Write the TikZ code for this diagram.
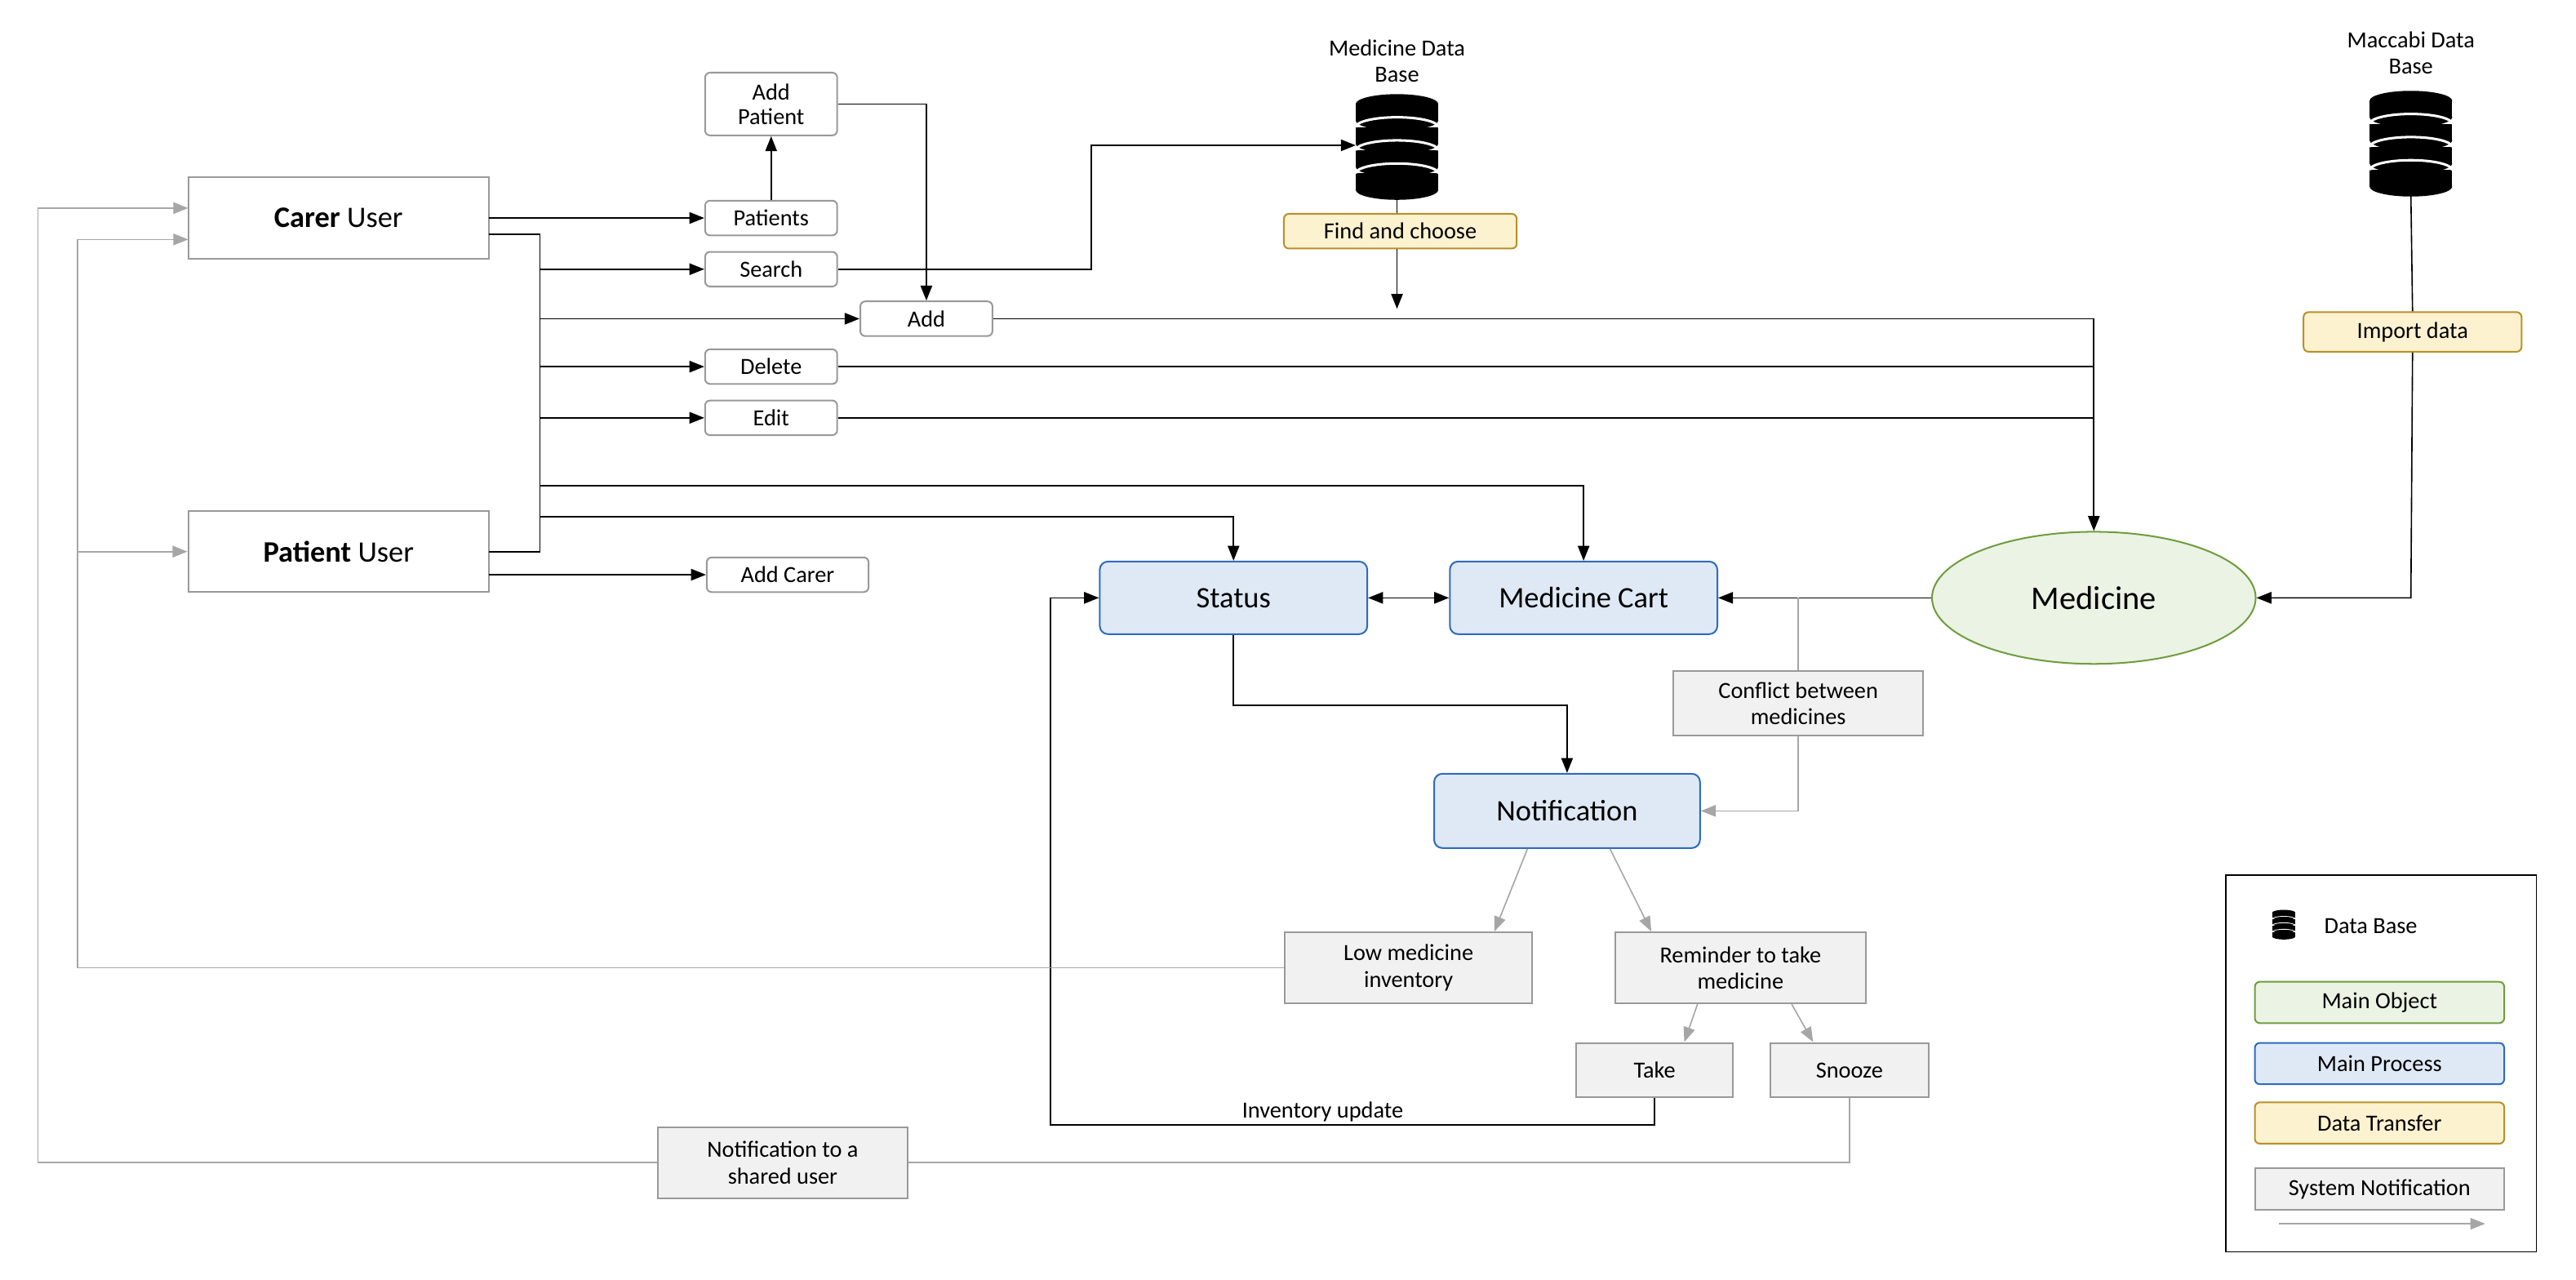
\documentclass[tikz,border=0pt]{standalone}
\usepackage{fontspec}
\setmainfont{Carlito}
\usetikzlibrary{arrows.meta,shapes.geometric}
\definecolor{gfill}{HTML}{EBF3E4}\definecolor{gdraw}{HTML}{6F9D3E}
\definecolor{bfill}{HTML}{DFE9F5}\definecolor{bdraw}{HTML}{2E6BBE}
\definecolor{yfill}{HTML}{FDF2D0}\definecolor{ydraw}{HTML}{B8902A}
\definecolor{sfill}{HTML}{F1F1F1}\definecolor{sdraw}{HTML}{999999}
\begin{document}
\begin{tikzpicture}[x=1pt,y=-1pt,
 sm/.style={draw=gray!80,rounded corners=3pt,line width=1pt,minimum width=80pt,minimum height=21pt,inner sep=1pt,font=\fontsize{14}{15}\selectfont,align=center},
 usr/.style={draw=gray!80,line width=1pt,minimum width=182pt,minimum height=49pt,font=\fontsize{18}{19}\selectfont},
 proc/.style={draw=bdraw,fill=bfill,rounded corners=5pt,line width=1pt,minimum width=162pt,minimum height=44pt,font=\fontsize{18}{19}\selectfont},
 dt/.style={draw=ydraw,fill=yfill,rounded corners=3pt,line width=1pt,minimum height=21pt,font=\fontsize{14}{15}\selectfont},
 sn/.style={draw=sdraw,fill=sfill,line width=1pt,minimum width=150pt,minimum height=42pt,align=center,font=\fontsize{14}{16}\selectfont},
 lg/.style={rounded corners=3pt,line width=1pt,minimum width=151pt,minimum height=25pt,font=\fontsize{14}{15}\selectfont},
 ar/.style={-{Triangle[length=9pt,width=7pt]},line width=0.8pt},
 ga/.style={-{Triangle[length=9pt,width=7pt]},line width=0.8pt,draw=gray!70,color=gray!70},
 gl/.style={line width=0.8pt,draw=gray!70},
 bl/.style={line width=0.8pt},
 db/.pic={\foreach \k in {0,1,2,3}{\fill (-25*#1,{(-30+\k*14)*#1}) rectangle (25*#1,{(-20+\k*14)*#1}); \fill (0,{(-20+\k*14)*#1}) ellipse ({25*#1} and {6*#1});}
   \fill (0,-30*#1) ellipse ({25*#1} and {6*#1});
   \foreach \k in {1,2,3}{\draw[white,line width={1.5pt*#1}] (-25*#1,{(-30+\k*14)*#1}) arc (180:360:{25*#1} and {6*#1});}}
]
\useasboundingbox (0,0) rectangle (1560,775);
% users
\node[usr] (carer) at (205,132) {\textbf{Carer} User};
\node[usr] (patient) at (205,334) {\textbf{Patient} User};
\node[sm,minimum height=38pt] (addp) at (467,63) {Add\\Patient};
\node[sm] (patients) at (467,132) {Patients};
\node[sm] (search) at (467,163) {Search};
\node[sm] (add) at (561,193) {Add};
\node[sm] (delete) at (467,222) {Delete};
\node[sm] (edit) at (467,253) {Edit};
\node[sm,minimum width=98pt] (addc) at (477,348) {Add Carer};
% databases
\node[font=\fontsize{14}{16}\selectfont,align=center] (mdbl) at (846,37) {Medicine Data\\Base};
\pic at (846,93) {db=1}; \coordinate (mdbL) at (821,88); \coordinate (mdbB) at (846,118);
\node[dt,minimum width=141pt] (find) at (848,140) {Find and choose};
\coordinate (findend) at (846,187);
\node[font=\fontsize{14}{16}\selectfont,align=center] (cdbl) at (1460,32) {Maccabi Data\\Base};
\pic at (1460,91) {db=1}; \coordinate (cdbB) at (1460,118);
\node[dt,minimum width=132pt,minimum height=24pt] (imp) at (1461,201) {Import data};
% main
\node[ellipse,draw=gdraw,fill=gfill,line width=1pt,minimum width=196pt,minimum height=80pt,font=\fontsize{20}{22}\selectfont] (med) at (1268,362) {Medicine};
\node[proc] (cart) at (959,362) {Medicine Cart};
\node[proc] (status) at (747,362) {Status};
\node[proc,minimum width=161pt,minimum height=45pt] (notif) at (949,491) {Notification};
\node[sn,minimum width=151pt,minimum height=39pt] (conf) at (1089,426) {Conflict between\\medicines};
\node[sn,minimum height=43pt] (low) at (853,586) {Low medicine\\inventory};
\node[sn,minimum width=152pt,minimum height=43pt] (rem) at (1054,586) {Reminder to take\\medicine};
\node[sn,minimum width=95pt,minimum height=33pt] (take) at (1002,648) {Take};
\node[sn,minimum width=96pt,minimum height=33pt] (snooze) at (1120,648) {Snooze};
\node[sn,minimum width=151pt,minimum height=43pt] (share) at (474,704) {Notification to a\\shared user};
\node[font=\fontsize{14}{15}\selectfont] (inv) at (801,673) {Inventory update};
% black connectors
\draw[ar] (296,132) -- (patients.west);
\draw[ar] (patients.north) -- (addp.south);
\draw[bl] (296,142) -- (327,142) -- (327,334) -- (296,334);
\draw[ar] (327,163) -- (search.west);
\draw[ar] (327,193) -- (add.west);
\draw[ar] (327,222) -- (delete.west);
\draw[ar] (327,253) -- (edit.west);
\draw[ar] (327,294) -- (959,294) -- (cart.north);
\draw[ar] (327,313) -- (747,313) -- (status.north);
\draw[ar] (296,348) -- (addc.west);
\draw[ar] (addp.east) -- (561,63) -- (add.north);
\draw[ar] (search.east) -- (661,163) -- (661,88) -- (mdbL);
\draw[bl] (mdbB) -- (find.north -| mdbB);
\draw[ar] (find.south -| findend) -- (findend);
\draw[bl] (add.east) -- (1268,193);
\draw[bl] (delete.east) -- (1268,222);
\draw[bl] (edit.east) -- (1268,253);
\draw[ar] (1268,193) -- (med.north);
\draw[bl] (cdbB) -- (imp.north);
\draw[ar] (imp.south) -- (1460,362) -- (med.east);
\draw[ar] (med.west) -- (cart.east);
\draw[{Triangle[length=9pt,width=7pt]}-{Triangle[length=9pt,width=7pt]},line width=0.8pt] (status.east) -- (cart.west);
\draw[ar] (status.south) -- (747,427) -- (949,427) -- (notif.north);
\draw[ar] (take.south) -- (1002,681) -- (636,681) -- (636,362) -- (status.west);
% gray connectors
\draw[gl] (1089,362) -- (conf.north);
\draw[ga] (conf.south) -- (1089,491) -- (notif.east);
\draw[ga] (925,514) -- (905,564);
\draw[ga] (975,514) -- (1000,564);
\draw[ga] (1028,608) -- (1020,631);
\draw[ga] (1085,608) -- (1098,631);
\draw[ga] (low.west) -- (47,586) -- (47,145) -- (114,145);
\draw[ga] (47,334) -- (patient.west);
\draw[gl] (snooze.south) -- (1120,704) -- (share.east);
\draw[ga] (share.west) -- (23,704) -- (23,126) -- (114,126);
% legend
\node[draw,line width=0.8pt,minimum width=188pt,minimum height=228pt] (leg) at (1442,644) {};
\pic at (1383,561) {db=0.28};
\node[font=\fontsize{14}{15}\selectfont,anchor=west] (ldb) at (1404,561) {Data Base};
\node[lg,draw=gdraw,fill=gfill] (l1) at (1441,607) {Main Object};
\node[lg,draw=bdraw,fill=bfill] (l2) at (1441,644) {Main Process};
\node[lg,draw=ydraw,fill=yfill] (l3) at (1441,680) {Data Transfer};
\node[lg,draw=sdraw,fill=sfill,rounded corners=0pt] (l4) at (1441,720) {System Notification};
\coordinate (la) at (1380,741); \coordinate (lb) at (1505,741);
\draw[ga] (la) -- (lb);
\end{tikzpicture}
\end{document}
